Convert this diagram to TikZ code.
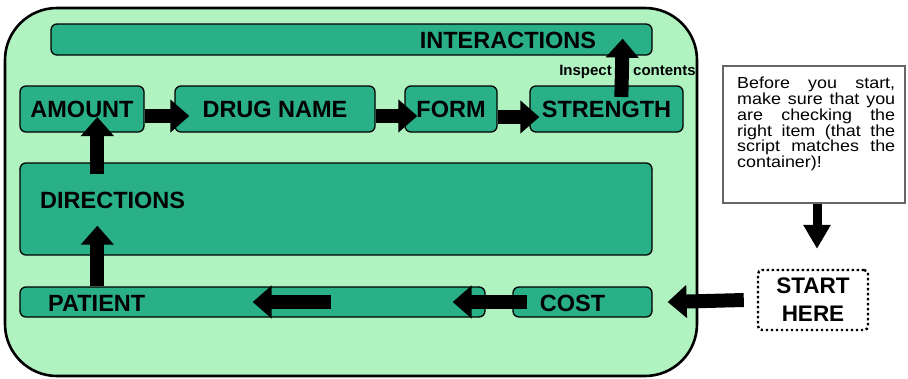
\documentclass[tikz,border=0pt]{standalone}
\usepackage{fontspec}
\setmainfont{Liberation Sans}
\newfontfamily\notefont[FakeStretch=1.12]{Liberation Sans}
\usepackage{xcolor}
\usetikzlibrary{arrows.meta}
\usetikzlibrary{positioning}

\definecolor{panelgreen}{RGB}{176,243,193}
\definecolor{boxgreen}{RGB}{42,176,135}

\tikzset{
  box/.style={draw,line width=1.3pt,fill=boxgreen,rounded corners=6pt,inner sep=0pt,font=\bfseries\fontsize{23.5}{26}\selectfont},
  tag/.style={inner sep=0pt,font=\bfseries\fontsize{23.5}{26}\selectfont},
  fat/.style={line width=14pt,-{Triangle[width=32pt,length=19pt]}},
}

\begin{document}
\begin{tikzpicture}[x=1pt,y=-1pt]
\useasboundingbox (0,0) rectangle (908,378);
\node[draw,line width=2.6pt,fill=panelgreen,rounded corners=52pt,minimum width=692,minimum height=368] (panel) at (351,192) {};

% checking order boxes
\node[box,minimum width=601,minimum height=31] (inter) at (351.5,39.5) {};
\node[tag] (intertxt) at (508,40.5) {INTERACTIONS};
\node[box,minimum width=124,minimum height=46] (amount) at (82,109) {AMOUNT};
\node[box,minimum width=200,minimum height=46] (drug) at (275,109) {DRUG NAME};
\node[box,minimum width=92,minimum height=46] (form) at (451,109) {FORM};
\node[box,minimum width=153,minimum height=46] (strength) at (606.5,109) {STRENGTH};
\node[box,minimum width=632,minimum height=92] (dirs) at (336,209) {};
\node[tag,anchor=west] (dirstxt) at (40,200) {DIRECTIONS};
\node[box,minimum width=465,minimum height=30] (patient) at (252.5,302) {};
\node[tag,anchor=west] (patienttxt) at (48,303.5) {PATIENT};
\node[box,minimum width=139,minimum height=30] (cost) at (582.5,302) {};
\node[tag] (costtxt) at (572.5,303) {COST};

\node[inner sep=0pt,font=\bfseries\fontsize{15}{17}\selectfont,anchor=base east] (insp) at (612,75) {Inspect};
\node[inner sep=0pt,font=\bfseries\fontsize{15}{17}\selectfont,anchor=base west] (cont) at (633,75) {contents};

% note and start
\node[draw=black!60,line width=1.2pt,minimum width=182,minimum height=137] (note) at (814,134.5) {};
\node[anchor=north west,inner sep=0pt,align=left,font=\notefont\fontsize{16}{14.4}\selectfont] (notetxt) at (737,76.5)
  {\makebox[158pt][s]{Before you start,}\\
   \makebox[158pt][s]{make sure that you}\\
   \makebox[158pt][s]{are checking the}\\
   \makebox[158pt][s]{right item (that the}\\
   \makebox[158pt][s]{script matches the}\\
   container)!};
\node[draw,line width=2.4pt,dash pattern=on 2.4pt off 2.6pt,rounded corners=4pt,minimum width=110,minimum height=60,align=center,inner sep=0pt,font=\bfseries\fontsize{22.5}{28}\selectfont] (start) at (813,300) {START\\HERE};

% arrows
\draw[fat] ([yshift=-7pt]amount.east) -- ([xshift=15pt,yshift=-7pt]drug.west);
\draw[fat] ([yshift=-7pt]drug.east) -- ([xshift=13pt,yshift=-7pt]form.west);
\draw[fat] ([yshift=-8pt]form.east) -- ([xshift=10pt,yshift=-8pt]strength.west);
\draw[fat] ([xshift=92pt,yshift=12pt]strength.west) -- ([xshift=-30pt,yshift=17pt]inter.south east);
\draw[fat] ([xshift=78pt,yshift=-12pt]dirs.north west) -- ([xshift=78pt,yshift=-8pt]amount.west);
\draw[fat] ([xshift=78pt]patient.north west) -- ([xshift=78pt,yshift=30pt]dirs.south west);
\draw[fat] ([xshift=-155pt]patient.east) -- ([xshift=-233pt]patient.east);
\draw[fat] ([xshift=15pt]cost.west) -- ([xshift=-33pt]patient.east);
\draw[fat] ([xshift=-13pt]start.west) -- ([xshift=15pt]cost.east);
\draw[line width=9pt,-{Triangle[width=26pt,length=24pt]}] ([xshift=3pt]note.south) -- ([xshift=4pt,yshift=20pt]start.north);
\end{tikzpicture}
\end{document}
